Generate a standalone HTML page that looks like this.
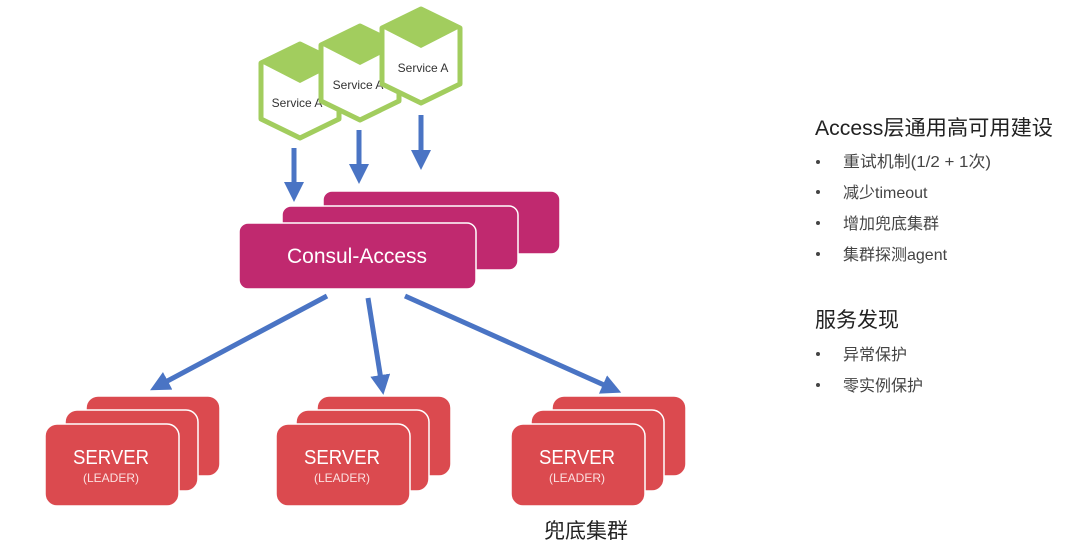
<!DOCTYPE html>
<html><head><meta charset="utf-8"><style>
html,body{margin:0;padding:0;background:#fff;width:1080px;height:551px;overflow:hidden}
svg text{font-family:"Liberation Sans","Noto Sans CJK SC",sans-serif}
</style></head><body>
<svg width="1080" height="551" viewBox="0 0 1080 551" xmlns="http://www.w3.org/2000/svg">
<defs>
<marker id="ah" markerWidth="4" markerHeight="4" refX="2.2" refY="2" orient="auto" markerUnits="strokeWidth">
<path d="M0,0 L4,2 L0,4 z" fill="#4A74C4"/></marker>
<g id="hex">
<path d="M0,-47 L39,-28 L39,28 L0,47 L-39,28 L-39,-28 Z" fill="#fff" stroke="#A2CD5E" stroke-width="5" stroke-linejoin="round"/>
<path d="M0,-47 L39,-28 L0,-8 L-39,-28 Z" fill="#A2CD5E"/>
</g>
<g id="srv">
<rect x="41" y="-28" width="134" height="80" rx="12" fill="#DB4A4F" stroke="#fff" stroke-width="1.5"/>
<rect x="20" y="-14" width="133" height="81" rx="12" fill="#DB4A4F" stroke="#fff" stroke-width="1.5"/>
<rect x="0" y="0" width="134" height="82" rx="12" fill="#DB4A4F" stroke="#fff" stroke-width="1.5"/>
<text x="66" y="40" font-size="20" fill="#fff" text-anchor="middle" textLength="76" lengthAdjust="spacingAndGlyphs">SERVER</text>
<text x="66" y="58" font-size="12" fill="#fbe0e0" text-anchor="middle">(LEADER)</text>
</g>
</defs>
<use href="#hex" x="300" y="91"/>
<text x="297" y="107" font-size="12" fill="#333" text-anchor="middle">Service A</text>
<use href="#hex" x="360" y="73"/>
<text x="358" y="89" font-size="12" fill="#333" text-anchor="middle">Service A</text>
<use href="#hex" x="421" y="56"/>
<text x="423" y="72" font-size="12" fill="#333" text-anchor="middle">Service A</text>

<g stroke="#4A74C4" stroke-width="5" fill="none" marker-end="url(#ah)">
<line x1="294" y1="148" x2="294" y2="193"/>
<line x1="359" y1="130" x2="359" y2="175"/>
<line x1="421" y1="115" x2="421" y2="161"/>
<line x1="327" y1="296" x2="158" y2="386"/>
<line x1="368" y1="298" x2="382" y2="386"/>
<line x1="405" y1="296" x2="613" y2="389"/>
</g>

<rect x="323" y="191" width="237" height="63" rx="9" fill="#C0296F" stroke="#fff" stroke-width="1.5"/>
<rect x="282" y="206" width="236" height="64" rx="9" fill="#C0296F" stroke="#fff" stroke-width="1.5"/>
<rect x="239" y="223" width="237" height="66" rx="9" fill="#C0296F" stroke="#fff" stroke-width="1.5"/>
<text x="357" y="263" font-size="21" fill="#fff" text-anchor="middle">Consul-Access</text>

<use href="#srv" x="45" y="424"/>
<use href="#srv" x="276" y="424"/>
<use href="#srv" x="511" y="424"/>
<text x="586" y="538" font-size="21" fill="#222" text-anchor="middle">兜底集群</text>

<g fill="#222">
<text x="815" y="135" font-size="21" textLength="238" lengthAdjust="spacingAndGlyphs">Access层通用高可用建设</text>
<text x="815" y="327" font-size="21">服务发现</text>
</g>
<g fill="#444" font-size="16">
<circle cx="818" cy="162" r="2"/><text x="843" y="167" textLength="148" lengthAdjust="spacingAndGlyphs">重试机制(1/2 + 1次)</text>
<circle cx="818" cy="192" r="2"/><text x="843" y="198">减少timeout</text>
<circle cx="818" cy="223" r="2"/><text x="843" y="229">增加兜底集群</text>
<circle cx="818" cy="254" r="2"/><text x="843" y="260">集群探测agent</text>
<circle cx="818" cy="354" r="2"/><text x="843" y="360">异常保护</text>
<circle cx="818" cy="385" r="2"/><text x="843" y="391">零实例保护</text>
</g>
</svg>
</body></html>
